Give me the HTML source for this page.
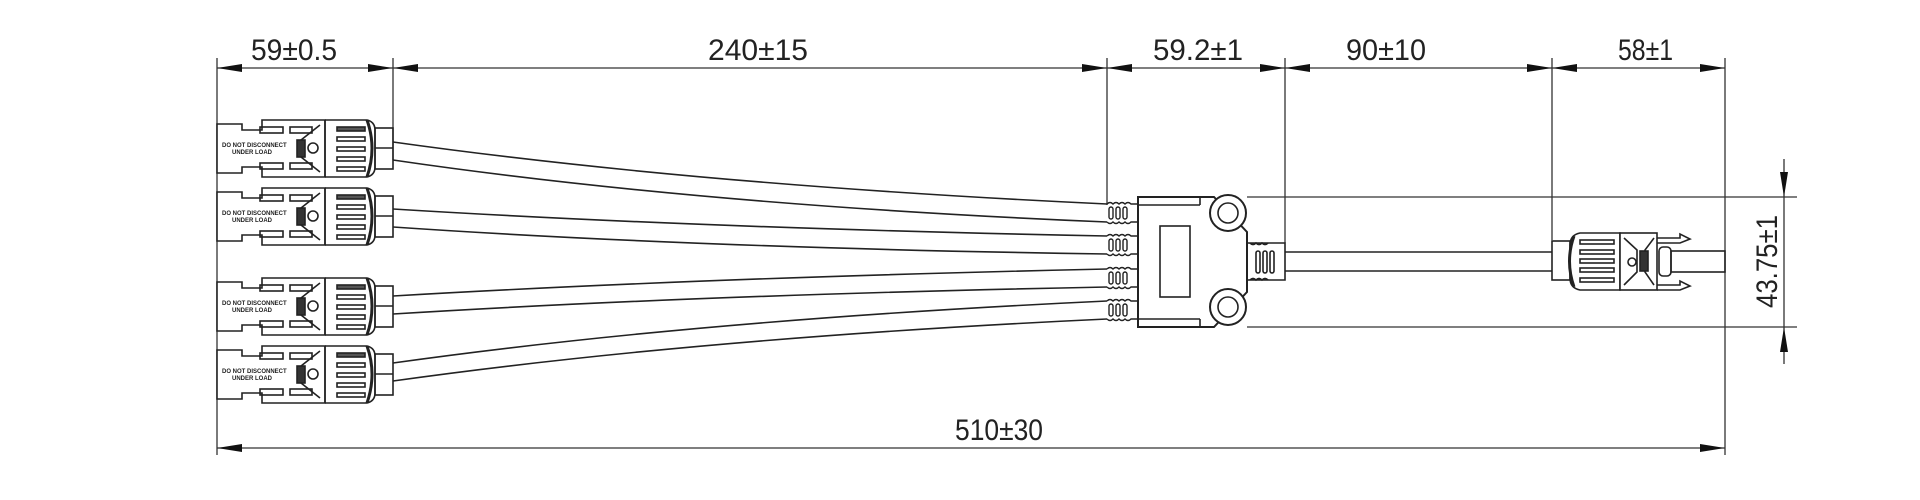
<!DOCTYPE html>
<html><head><meta charset="utf-8"><style>
html,body{margin:0;padding:0;background:#fff;}
svg{display:block;}
text{font-family:"Liberation Sans",sans-serif;fill:#222;}
</style></head><body>
<svg width="1920" height="500" viewBox="0 0 1920 500" xmlns="http://www.w3.org/2000/svg">
<defs>
<g id="lc" fill="none" stroke="#222" stroke-width="1.6">
  <path d="M0,4 L25,4 L25,10 L45,10 L45,0 L108,0 L108,57 L45,57 L45,47 L25,47 L25,53 L0,53 Z" fill="#fff"/>
  <rect x="43" y="7" width="23" height="6"/><rect x="73" y="7" width="22" height="6"/>
  <rect x="43" y="43" width="23" height="6"/><rect x="73" y="43" width="22" height="6"/>
  <path d="M103,5 L84,20 L84,37 L103,52"/>
  <rect x="80" y="20" width="8" height="17" fill="#333"/>
  <circle cx="96" cy="28" r="5"/>
  <path d="M108,0 L150,0 Q158,2 158,10 L158,47 Q158,55 150,57 L108,57"/>
  <path d="M108,0 V57"/>
  <path d="M150,0 Q160,28 150,57" stroke-width="3"/>
  <rect x="120" y="7" width="28" height="4" fill="#555"/>
  <rect x="120" y="17" width="28" height="4"/>
  <rect x="120" y="27" width="28" height="4"/>
  <rect x="120" y="37" width="28" height="4"/>
  <rect x="120" y="47" width="28" height="4"/>
  <rect x="158" y="8" width="18" height="41"/>
  <path d="M158,28 H176"/>
</g>
<g id="gr" fill="none" stroke="#222" stroke-width="1.4">
  <path d="M0,0 Q3,-3 6,0 Q9,-3 12,0 Q15,-3 18,0 Q21,-3 24,0 L31,0 M0,18 Q3,21 6,18 Q9,21 12,18 Q15,21 18,18 Q21,21 24,18 L31,18"/>
  <rect x="2" y="3" width="4" height="12" rx="2"/><rect x="9" y="3" width="4" height="12" rx="2"/><rect x="16" y="3" width="4" height="12" rx="2"/>
</g>
<path id="ah" d="M0,0 L25,-4 L25,4 Z" fill="#111"/>
</defs>

<g stroke="#333" stroke-width="1.3" fill="none">
  <path d="M217,58 V455 M393,58 V160 M1107,58 V205 M1285,58 V243 M1552,58 V240 M1725,58 V455"/>
  <path d="M1247,197 H1797 M1247,327 H1797"/>
  <path d="M217,68 H1725 M217,448 H1725 M1784,159 V364"/>
</g>
<g>
  <use href="#ah" transform="translate(217,68)"/>
  <use href="#ah" transform="translate(393,68) rotate(180)"/>
  <use href="#ah" transform="translate(393,68)"/>
  <use href="#ah" transform="translate(1107,68) rotate(180)"/>
  <use href="#ah" transform="translate(1107,68)"/>
  <use href="#ah" transform="translate(1285,68) rotate(180)"/>
  <use href="#ah" transform="translate(1285,68)"/>
  <use href="#ah" transform="translate(1552,68) rotate(180)"/>
  <use href="#ah" transform="translate(1552,68)"/>
  <use href="#ah" transform="translate(1725,68) rotate(180)"/>
  <use href="#ah" transform="translate(217,448)"/>
  <use href="#ah" transform="translate(1725,448) rotate(180)"/>
  <use href="#ah" transform="translate(1784,197) rotate(-90)"/>
  <use href="#ah" transform="translate(1784,327) rotate(90)"/>
</g>
<g font-size="30">
  <text x="251" y="60" textLength="86" lengthAdjust="spacingAndGlyphs">59±0.5</text>
  <text x="708" y="60" textLength="100" lengthAdjust="spacingAndGlyphs">240±15</text>
  <text x="1153" y="60" textLength="90" lengthAdjust="spacingAndGlyphs">59.2±1</text>
  <text x="1346" y="60" textLength="80" lengthAdjust="spacingAndGlyphs">90±10</text>
  <text x="1618" y="60" textLength="55" lengthAdjust="spacingAndGlyphs">58±1</text>
  <text x="955" y="440" textLength="88" lengthAdjust="spacingAndGlyphs">510±30</text>
  <text transform="translate(1777,308) rotate(-90)" textLength="93" lengthAdjust="spacingAndGlyphs">43.75±1</text>
</g>

<g stroke="#222" stroke-width="1.6" fill="none">
  <path d="M393,142 Q700,185 1107,204"/>
  <path d="M393,160 Q700,205 1107,222"/>
  <path d="M393,209 Q700,228 1107,236"/>
  <path d="M393,227 Q700,248 1107,254"/>
  <path d="M393,296 Q700,278 1107,269"/>
  <path d="M393,314 Q700,295 1107,287"/>
  <path d="M393,363 Q700,320 1107,301"/>
  <path d="M393,381 Q700,338 1107,319"/>
  <path d="M1285,252 H1570 M1285,271 H1570"/>
</g>

<use href="#lc" transform="translate(217,120)"/>
<use href="#lc" transform="translate(217,188)"/>
<use href="#lc" transform="translate(217,278)"/>
<use href="#lc" transform="translate(217,346)"/>
<g font-size="6" font-weight="bold">
  <text x="222" y="147">DO NOT DISCONNECT</text><text x="232" y="154">UNDER LOAD</text>
  <text x="222" y="215">DO NOT DISCONNECT</text><text x="232" y="222">UNDER LOAD</text>
  <text x="222" y="305">DO NOT DISCONNECT</text><text x="232" y="312">UNDER LOAD</text>
  <text x="222" y="373">DO NOT DISCONNECT</text><text x="232" y="380">UNDER LOAD</text>
</g>

<use href="#gr" transform="translate(1107,204)"/>
<use href="#gr" transform="translate(1107,236)"/>
<use href="#gr" transform="translate(1107,269)"/>
<use href="#gr" transform="translate(1107,301)"/>
<g fill="none" stroke="#222" stroke-width="1.6">
  <path d="M1138,197 H1200 L1214,197 L1247,232 L1247,292 L1214,327 L1138,327 Z" fill="#fff" stroke-width="2"/>
  <path d="M1138,205 H1200 M1138,319 H1200 M1200,197 V205 M1200,319 V327"/>
  <rect x="1160" y="226" width="30" height="71"/>
  <circle cx="1228" cy="213" r="18" fill="#fff" stroke-width="2"/><circle cx="1228" cy="213" r="10"/>
  <circle cx="1228" cy="307" r="18" fill="#fff" stroke-width="2"/><circle cx="1228" cy="307" r="10"/>
  <path d="M1247,243 H1285 V280 H1247"/>
  <path d="M1250,243 q3,3 6,0 q3,3 6,0 q3,3 6,0 M1250,280 q3,-3 6,0 q3,-3 6,0 q3,-3 6,0"/>
  <rect x="1256" y="251" width="4" height="22" rx="2"/><rect x="1263" y="251" width="4" height="22" rx="2"/><rect x="1270" y="251" width="4" height="22" rx="2"/>
</g>

<g fill="none" stroke="#222" stroke-width="1.6">
  <rect x="1552" y="241" width="18" height="39" fill="#fff"/>
  <path d="M1620,233 H1580 Q1570,235 1570,245 V278 Q1570,288 1580,290 H1620 Z" fill="#fff"/>
  <path d="M1574,236 Q1565,261 1574,287" stroke-width="3"/>
  <rect x="1580" y="240" width="34" height="4"/><rect x="1580" y="250" width="34" height="4"/><rect x="1580" y="259" width="34" height="4"/><rect x="1580" y="268" width="34" height="4"/><rect x="1580" y="278" width="34" height="4"/>
  <rect x="1620" y="233" width="37" height="57" fill="#fff"/>
  <path d="M1624,238 L1637,250 V272 L1624,285 M1654,238 L1645,250 V272 L1654,285"/>
  <rect x="1640" y="251" width="8" height="20" fill="#333"/>
  <circle cx="1632" cy="262" r="4"/>
  <path d="M1657,238 H1680 L1680,234 L1690,239 L1680,243 H1657 M1657,285 H1680 L1680,281 L1690,286 L1680,290 H1657"/>
  <rect x="1659" y="247" width="12" height="29" rx="4"/>
  <rect x="1671" y="251" width="54" height="21"/>
</g>
</svg>
</body></html>
